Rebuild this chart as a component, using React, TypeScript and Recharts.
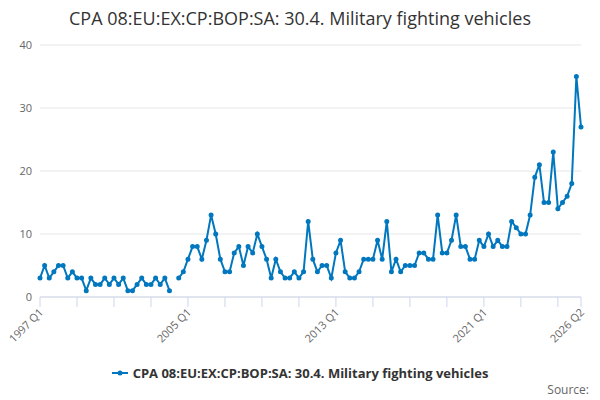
import { LineChart, Line, XAxis, YAxis, CartesianGrid } from "recharts";

const values: (number | null)[] = [
  3, 5, 3, 4, 5, 5, 3, 4, 3, 3, 1, 3, 2, 2, 3, 2, 3, 2, 3, 1, 1, 2, 3, 2, 2, 3, 2, 3, 1,
  null,
  3, 4, 6, 8, 8, 6, 9, 13, 10, 6, 4, 4, 7, 8, 5, 8, 7, 10, 8, 6, 3, 6, 4, 3, 3, 4, 3, 4, 12, 6, 4, 5, 5,
  3, 7, 9, 4, 3, 3, 4, 6, 6, 6, 9, 6, 12, 4, 6, 4, 5, 5, 5, 7, 7, 6, 6, 13, 7, 7, 9, 13, 8, 8, 6,
  6, 9, 8, 10, 8, 9, 8, 8, 12, 11, 10, 10, 13, 19, 21, 15, 15, 23, 14, 15, 16, 18, 35, 27,
];

const quarters = values.map((_, i) => `${1997 + Math.floor(i / 4)} Q${(i % 4) + 1}`);
const data = values.map((v, i) => ({ q: quarters[i], v }));

const tickMarks = quarters.filter((_, i) => i % 8 === 0).concat(quarters[quarters.length - 1]);
const tickLabels = ["1997 Q1", "2005 Q1", "2013 Q1", "2021 Q1", "2026 Q2"];
const yTicks = [0, 10, 20, 30, 40];
const seriesName = "CPA 08:EU:EX:CP:BOP:SA: 30.4. Military fighting vehicles";
const color = "#0077be";

const XTick = (props: any) => {
  const { x, y, payload } = props;
  if (!tickLabels.includes(payload.value)) return null;
  return (
    <text x={x + 4} y={y + 4} transform={`rotate(-45 ${x + 4} ${y + 4})`} textAnchor="end" fontSize={11} fill="#666">
      {payload.value}
    </text>
  );
};

export default function App() {
  return (
    <div style={{ position: "absolute", left: 0, top: 0, width: 600, height: 400, fontFamily: "'Open Sans', sans-serif", background: "#fff" }}>
      <div style={{ position: "absolute", top: 6, width: 600, textAlign: "center", fontSize: 18, color: "#333" }}>
        CPA 08:EU:EX:CP:BOP:SA: 30.4. Military fighting vehicles
      </div>
      <LineChart width={600} height={400} data={data} margin={{ top: 45, right: 19, bottom: 0, left: 0 }}>
        <CartesianGrid vertical={false} stroke="#e6e6e6" />
        <XAxis dataKey="q" ticks={tickMarks} interval={0} tick={<XTick />} tickLine={{ stroke: "#ccd6eb" }} axisLine={{ stroke: "#ccd6eb" }} tickSize={10} height={103} />
        <YAxis domain={[0, 40]} ticks={yTicks} width={40} axisLine={false} tickLine={false} tick={{ fontSize: 11, fill: "#666" }} />
        <Line dataKey="v" stroke={color} strokeWidth={2} dot={{ r: 1.5, fill: color, stroke: color }} isAnimationActive={false} connectNulls={false} />
      </LineChart>
      <div style={{ position: "absolute", top: 364, width: 600, display: "flex", justifyContent: "center", alignItems: "center", fontSize: 13, fontWeight: "bold", color: "#333" }}>
        <svg width={16} height={10} style={{ marginRight: 5 }}>
          <line x1={0} y1={5} x2={16} y2={5} stroke={color} strokeWidth={2} />
          <circle cx={8} cy={5} r={2.5} fill={color} />
        </svg>
        {seriesName}
      </div>
      <div style={{ position: "absolute", top: 381, right: 11, fontSize: 12, color: "#666" }}>Source:</div>
    </div>
  );
}
